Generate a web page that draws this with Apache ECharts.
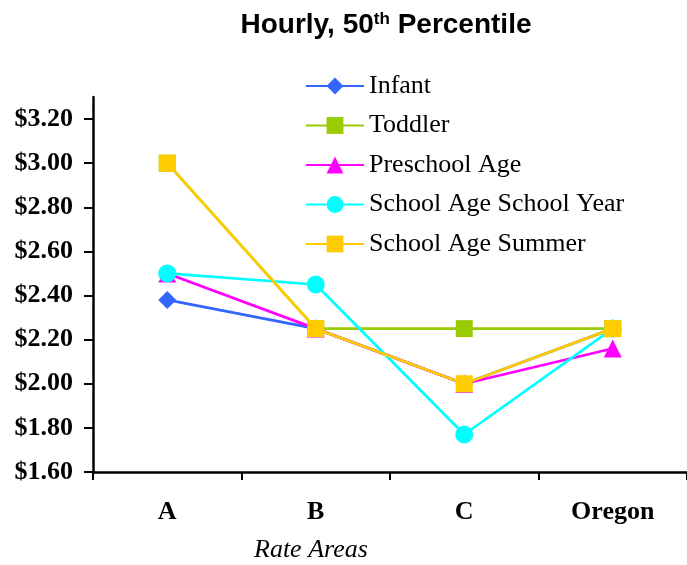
<!DOCTYPE html>
<html>
<head>
<meta charset="utf-8">
<script src="https://cdn.jsdelivr.net/npm/echarts@6/dist/echarts.min.js"></script>
<style>
  html, body { margin: 0; padding: 0; background: #fff; }
  #chart { width: 687px; height: 565px; }
</style>
</head>
<body>
<div id="chart"></div>
<script>
// Rate areas along the x axis
const categories = ['A', 'B', 'C', 'Oregon'];

// Hourly rates, 50th percentile (dollars)
const infant = [2.38, 2.25, 2.00, 2.25];
const toddler = [3.00, 2.25, 2.25, 2.25];
const preschool = [2.50, 2.25, 2.00, 2.16];
const schoolYear = [2.50, 2.45, 1.77, 2.25];
const summer = [3.00, 2.25, 2.00, 2.25];

const seriesNames = ['Infant', 'Toddler', 'Preschool Age', 'School Age School Year', 'School Age Summer'];
const seriesData = [infant, toddler, preschool, schoolYear, summer];
const colors = ['#3366FF', '#99CC00', '#FF00FF', '#00FFFF', '#FFCC00'];
const symbols = ['diamond', 'rect', 'triangle', 'circle', 'rect'];

const myChart = echarts.init(document.getElementById('chart'));

const serif = '"Liberation Serif", "Times New Roman", serif';
const sans = '"Liberation Sans", Arial, sans-serif';

const option = {
  animation: false,
  title: {
    text: '{t|Hourly, 50}{s|th}{t| Percentile}',
    left: 381,
    textAlign: 'center',
    top: 6,
    textStyle: {
      rich: {
        t: { fontFamily: sans, fontWeight: 'bold', fontSize: 28, color: '#000' },
        s: { fontFamily: sans, fontWeight: 'bold', fontSize: 17, color: '#000', verticalAlign: 'top', padding: [0, 0, 12, 0] }
      }
    }
  },
  legend: {
    orient: 'vertical',
    left: 305,
    top: 73,
    padding: 0,
    itemWidth: 58,
    itemHeight: 21,
    itemGap: 13.5,
    textStyle: { fontFamily: serif, fontSize: 26, color: '#000', lineHeight: 26 },
    data: seriesNames
  },
  grid: { left: 93, right: 0, top: 97, bottom: 93, containLabel: false },
  xAxis: {
    type: 'category',
    data: categories,
    boundaryGap: true,
    axisLine: { lineStyle: { color: '#000', width: 2.5 } },
    axisTick: { show: true, length: 8, lineStyle: { color: '#000', width: 2 } },
    axisLabel: { margin: 27, fontFamily: serif, fontWeight: 'bold', fontSize: 26, color: '#000' }
  },
  yAxis: {
    type: 'value',
    min: 1.6,
    max: 3.3,
    interval: 0.2,
    splitLine: { show: false },
    axisLine: { show: true, lineStyle: { color: '#000', width: 2.5 } },
    axisTick: { show: true, length: 9, lineStyle: { color: '#000', width: 2 } },
    axisLabel: {
      showMaxLabel: false,
      margin: 20,
      fontFamily: serif,
      fontWeight: 'bold',
      fontSize: 26,
      color: '#000',
      formatter: (v) => '$' + v.toFixed(2)
    }
  },
  graphic: [
    {
      type: 'text',
      left: 254,
      top: 537,
      style: { text: 'Rate Areas', fontFamily: serif, fontStyle: 'italic', fontSize: 26, fill: '#000' }
    }
  ],
  series: seriesNames.map((name, i) => ({
    name: name,
    type: 'line',
    data: seriesData[i],
    symbol: symbols[i],
    symbolSize: symbols[i] === 'rect' ? 17 : 18,
    showAllSymbol: true,
    lineStyle: { color: colors[i], width: 2.7 },
    itemStyle: { color: colors[i] },
    z: 2 + i
  }))
};

myChart.setOption(option);

window.addEventListener('resize', () => {
  myChart.resize();
});
</script>
</body>
</html>
